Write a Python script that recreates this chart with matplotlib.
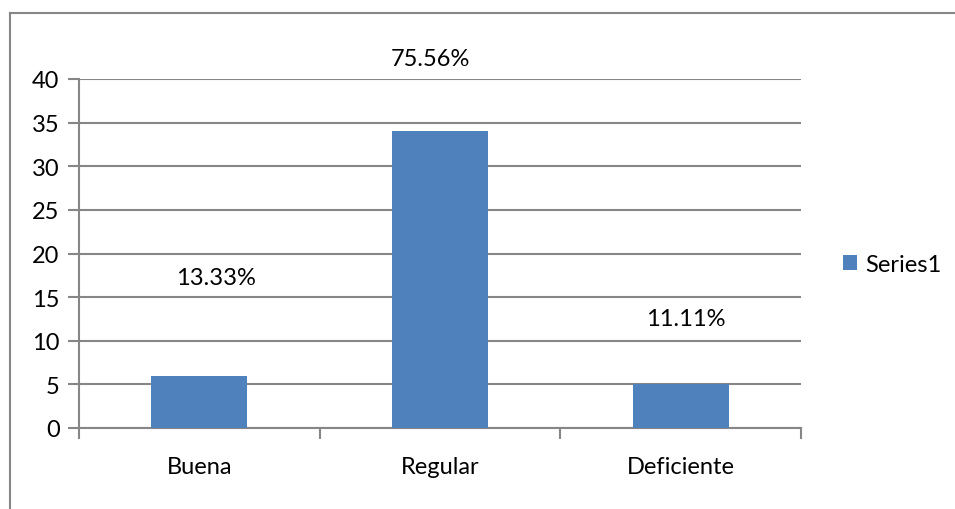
import matplotlib.pyplot as plt
from matplotlib.lines import Line2D
import numpy as np

# datos del grafico
categorias = ["Buena", "Regular", "Deficiente"]
valores = [6, 34, 5]
etiquetas = ["13.33%", "75.56%", "11.11%"]
# posicion de las etiquetas (tal como aparecen, desplazadas a mano)
etq_x = [0.07, -0.04, 0.02]
etq_y = [17.3, 42.3, 12.5]

plt.rcParams['font.family'] = ['Lato', 'DejaVu Sans']
gris = '#868686'
azul = '#4F81BD'
fs = 17

fig = plt.figure(figsize=(9.55, 5.1), dpi=100)
# borde del area del grafico (solo izquierda y arriba se ven)
bx = 10 / 955
by = 1 - 14 / 510
fig.add_artist(Line2D([bx, bx], [-0.05, by], transform=fig.transFigure,
                      color=gris, linewidth=1.5, solid_capstyle='projecting'))
fig.add_artist(Line2D([bx, 1.05], [by, by], transform=fig.transFigure,
                      color=gris, linewidth=1.5))

ax = fig.add_axes([79 / 955, 1 - 429 / 510, 722 / 955, 349 / 510])
x = np.arange(len(categorias))
ax.bar(x, valores, width=0.4, color=azul, zorder=3, label="Series1")

for i in range(len(categorias)):
    ax.text(x[i] + etq_x[i], etq_y[i], etiquetas[i], ha='center', va='center',
            fontsize=fs, color='black')

ax.set_xlim(-0.5, 2.5)
ax.set_ylim(0, 40)
ax.set_yticks(range(0, 41, 5))
ax.yaxis.grid(True, color=gris, linewidth=1.5)
ax.set_axisbelow(True)

ax.set_xticks([0, 1, 2])
ax.set_xticklabels(categorias)
ax.set_xticks([-0.5, 0.5, 1.5, 2.5], minor=True)
ax.tick_params(axis='x', which='major', length=0, pad=20, labelsize=fs)
ax.tick_params(axis='x', which='minor', length=8, width=1.5, color=gris)
ax.tick_params(axis='y', length=8, width=1.5, color=gris, labelsize=fs, pad=6)

for s in ['top', 'right']:
    ax.spines[s].set_visible(False)
for s in ['left', 'bottom']:
    ax.spines[s].set_color(gris)
    ax.spines[s].set_linewidth(1.5)

ax.legend(loc='center left', bbox_to_anchor=(843 / 955, 1 - 265 / 510),
          bbox_transform=fig.transFigure, frameon=False, fontsize=fs,
          handlelength=0.6, handleheight=0.6, handletextpad=0.35,
          borderpad=0, borderaxespad=0)

fig.savefig('out.png', dpi=100)
